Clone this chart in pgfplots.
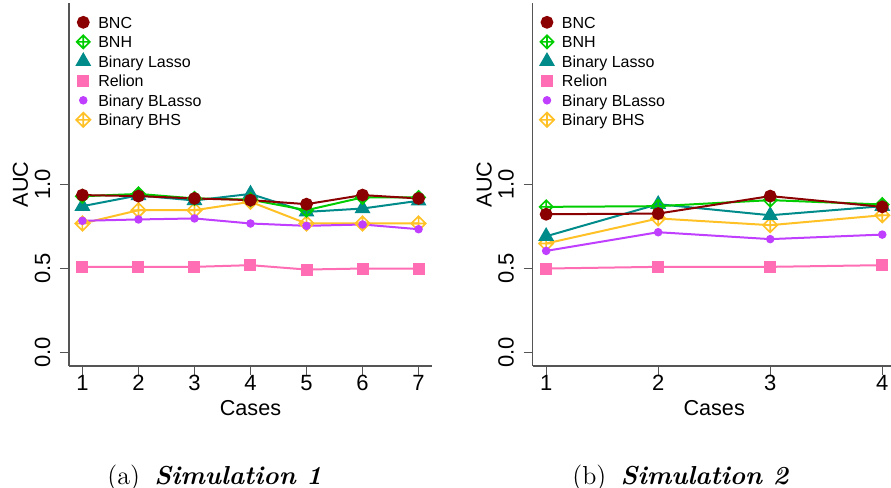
\documentclass[border=0pt]{standalone}
\usepackage{fontspec}
\usepackage{pgfplots}
\pgfplotsset{compat=1.18}
\newfontfamily\arial{Liberation Sans}

\definecolor{bncc}{HTML}{8B0000}
\definecolor{bnhc}{HTML}{00CD00}
\definecolor{lassoc}{HTML}{008B8B}
\definecolor{relc}{HTML}{FF6EB4}
\definecolor{blc}{HTML}{BF3EFF}
\definecolor{bhsc}{HTML}{FFC125}
\definecolor{axc}{HTML}{555555}

% diamond with a plus inside (R pch 9)
\pgfdeclareplotmark{dplus}{%
  \pgfpathmoveto{\pgfqpoint{\pgfplotmarksize}{0pt}}%
  \pgfpathlineto{\pgfqpoint{0pt}{\pgfplotmarksize}}%
  \pgfpathlineto{\pgfqpoint{-\pgfplotmarksize}{0pt}}%
  \pgfpathlineto{\pgfqpoint{0pt}{-\pgfplotmarksize}}%
  \pgfpathclose
  \pgfpathmoveto{\pgfqpoint{\pgfplotmarksize}{0pt}}%
  \pgfpathlineto{\pgfqpoint{-\pgfplotmarksize}{0pt}}%
  \pgfpathmoveto{\pgfqpoint{0pt}{\pgfplotmarksize}}%
  \pgfpathlineto{\pgfqpoint{0pt}{-\pgfplotmarksize}}%
  \pgfusepathqstroke}

\pgfplotsset{
  panel/.style={
    width=181.5pt, height=181.5pt, scale only axis,
    axis x line*=bottom, axis y line*=left,
    axis line style={-, axc, line width=0.7pt},
    tick style={axc, line width=0.6pt},
    tick align=outside, major tick length=4.5pt,
    ymin=-0.08, ymax=2.08,
    ytick={0,0.5,1}, yticklabels={0.0,0.5,1.0},
    /pgf/number format/assume math mode=true,
    ticklabel style={font=\arial\fontsize{11}{13}\selectfont},
    xticklabel style={anchor=base, yshift=-8pt},
    yticklabel style={rotate=90, anchor=base, yshift=5pt},
    xlabel={Cases}, ylabel={AUC},
    every axis x label/.style={at={(axis description cs:0.5,-0.135)}, anchor=base,
      font=\arial\fontsize{10.8}{13}\selectfont},
    every axis y label/.style={at={(axis description cs:-0.113,0.5)}, rotate=90, anchor=base,
      font=\arial\fontsize{10.8}{13}\selectfont},
    legend style={draw=none, fill=none, at={(0.0118,0.9716)}, anchor=north west,
      inner sep=0pt, outer sep=0pt, font=\arial\fontsize{8}{9}\selectfont,
      row sep=0.75pt, column sep=2.5pt,
      nodes={inner sep=0pt, text height=6pt, text depth=0pt}, cells={anchor=west}},
    legend image code/.code={\path[draw=none, fill=none] (-5pt,-4.5pt) rectangle (5pt,4.5pt);
      \draw[##1] plot coordinates {(0pt,0pt)};},
    reverse legend,
    clip=false,
  },
  sbnc/.style={color=bncc, line width=1pt, mark=*, mark size=2.7pt},
  sbnh/.style={color=bnhc, line width=1pt, mark=dplus, mark size=3.3pt, mark options={line width=0.8pt}},
  slasso/.style={color=lassoc, line width=1pt, mark=triangle*, mark size=3.6pt},
  srel/.style={color=relc, line width=1pt, mark=square*, mark size=2.5pt},
  sbl/.style={color=blc, line width=1pt, mark=*, mark size=1.6pt},
  sbhs/.style={color=bhsc, line width=1pt, mark=dplus, mark size=3.6pt, mark options={line width=0.8pt}},
}

\begin{document}
\begin{tikzpicture}
\useasboundingbox (0,0) rectangle (445.5pt,244pt);

\begin{axis}[panel, at={(34.5pt,61pt)}, anchor=south west,
    xmin=0.76, xmax=7.24, xtick={1,2,3,4,5,6,7}]
  \addplot[sbhs] coordinates {(1,0.768) (2,0.847) (3,0.847) (4,0.897) (5,0.768) (6,0.768) (7,0.768)};
  \addlegendentry{Binary BHS}
  \addplot[sbl] coordinates {(1,0.784) (2,0.792) (3,0.798) (4,0.768) (5,0.754) (6,0.762) (7,0.734)};
  \addlegendentry{Binary BLasso}
  \addplot[srel] coordinates {(1,0.510) (2,0.510) (3,0.510) (4,0.520) (5,0.494) (6,0.500) (7,0.500)};
  \addlegendentry{Relion}
  \addplot[slasso] coordinates {(1,0.871) (2,0.935) (3,0.905) (4,0.944) (5,0.837) (6,0.857) (7,0.903)};
  \addlegendentry{Binary Lasso}
  \addplot[sbnh] coordinates {(1,0.930) (2,0.944) (3,0.917) (4,0.910) (5,0.847) (6,0.923) (7,0.923)};
  \addlegendentry{BNH}
  \addplot[sbnc] coordinates {(1,0.937) (2,0.931) (3,0.917) (4,0.907) (5,0.883) (6,0.937) (7,0.917)};
  \addlegendentry{BNC}
\end{axis}

\begin{axis}[panel, at={(266.35pt,61pt)}, anchor=south west,
    xmin=0.88, xmax=4.12, xtick={1,2,3,4}]
  \addplot[sbhs] coordinates {(1,0.649) (2,0.798) (3,0.758) (4,0.817)};
  \addlegendentry{Binary BHS}
  \addplot[sbl] coordinates {(1,0.605) (2,0.716) (3,0.675) (4,0.702)};
  \addlegendentry{Binary BLasso}
  \addplot[srel] coordinates {(1,0.500) (2,0.510) (3,0.510) (4,0.520)};
  \addlegendentry{Relion}
  \addplot[slasso] coordinates {(1,0.692) (2,0.883) (3,0.817) (4,0.871)};
  \addlegendentry{Binary Lasso}
  \addplot[sbnh] coordinates {(1,0.867) (2,0.871) (3,0.907) (4,0.881)};
  \addlegendentry{BNH}
  \addplot[sbnc] coordinates {(1,0.823) (2,0.827) (3,0.931) (4,0.867)};
  \addlegendentry{BNC}
\end{axis}

\node[anchor=base west, inner sep=0pt, font=\fontsize{13}{15}\selectfont] at (53.5pt,1.5pt)
  {(a)\hspace{0.55em}\textbf{\textit{Simulation 1}}};
\node[anchor=base west, inner sep=0pt, font=\fontsize{13}{15}\selectfont] at (286pt,1.5pt)
  {(b)\hspace{0.55em}\textbf{\textit{Simulation 2}}};
\end{tikzpicture}
\end{document}
